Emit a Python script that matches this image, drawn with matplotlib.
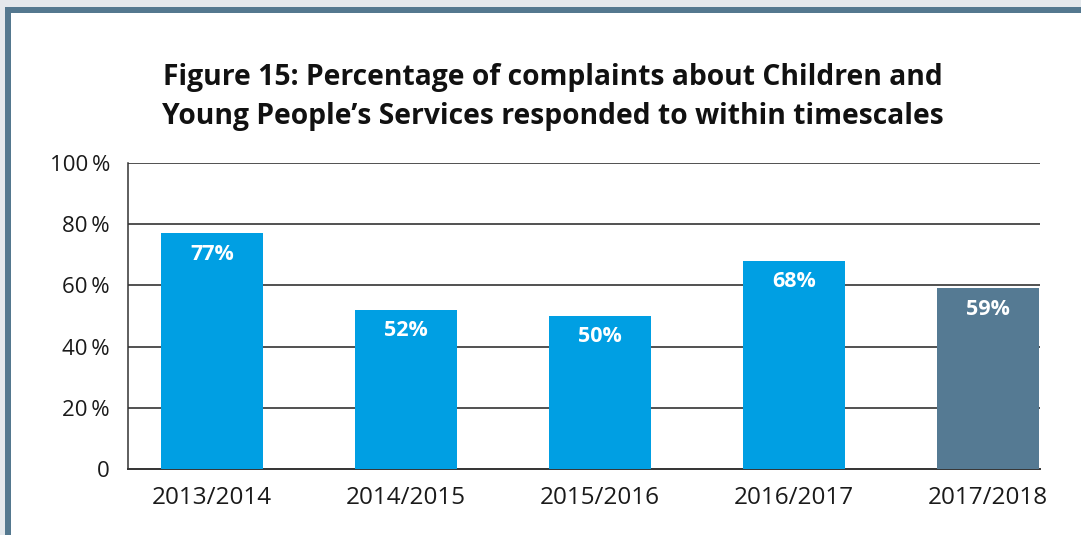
import matplotlib
matplotlib.use("Agg")
import matplotlib.pyplot as plt
from matplotlib.patches import Rectangle

# Complaints responded to within timescales, by year
years = ["2013/2014", "2014/2015", "2015/2016", "2016/2017", "2017/2018"]
pct_in_time = [77, 52, 50, 68, 59]
bar_colors = ["#009fe3", "#009fe3", "#009fe3", "#009fe3", "#557a93"]
y_ticks = [0, 20, 40, 60, 80, 100]
y_tick_labels = ["0", "20\u2009%", "40\u2009%", "60\u2009%", "80\u2009%", "100\u2009%"]

plt.rcParams["font.family"] = ["Open Sans", "DejaVu Sans"]

W, H = 1081, 535
fig = plt.figure(figsize=(W / 100, H / 100), dpi=100)
fig.patch.set_facecolor("#e4e8ec")

# frame: blue-grey border on top/left, white panel inside
fig.patches.append(Rectangle((5 / W, 0), 1, 1 - 7 / H, transform=fig.transFigure,
                             facecolor="#54788f", edgecolor="none", zorder=-2))
fig.patches.append(Rectangle((11 / W, 0), 1, 1 - 13 / H, transform=fig.transFigure,
                             facecolor="white", edgecolor="none", zorder=-1))

ax = fig.add_axes([128 / W, (H - 469) / H, (1040 - 128) / W, (469 - 163) / H])
ax.set_facecolor("none")

x = list(range(len(years)))
bars = ax.bar(x, pct_in_time, width=0.53, color=bar_colors, zorder=3)

for b, v in zip(bars, pct_in_time):
    ax.annotate(f"{v}%", (b.get_x() + b.get_width() / 2, v), xytext=(0, -15),
                textcoords="offset points", ha="center", va="center",
                color="white", fontsize=15.5, fontweight="bold", zorder=4)

ax.set_xlim(-0.433, 4.268)
ax.set_ylim(0, 100)
ax.set_yticks(y_ticks)
ax.set_yticklabels(y_tick_labels)
ax.set_xticks(x)
ax.set_xticklabels(years)
ax.tick_params(axis="both", length=0, colors="#1a1a1a")
ax.tick_params(axis="x", pad=12, labelsize=17.5)
ax.tick_params(axis="y", pad=13, labelsize=16)

for yv in y_ticks[1:]:
    ax.axhline(yv, color="#222222", linewidth=1.1, zorder=1)

for s in ["top", "right"]:
    ax.spines[s].set_visible(False)
ax.spines["left"].set_color("#333333")
ax.spines["bottom"].set_color("#333333")
ax.spines["left"].set_linewidth(1.1)
ax.spines["bottom"].set_linewidth(1.4)

fig.text(553 / W, 1 - 97 / H,
         "Figure 15: Percentage of complaints about Children and\n"
         "Young People\u2019s Services responded to within timescales",
         ha="center", va="center", fontsize=20.3, fontweight="bold",
         color="#111111", linespacing=1.42)

fig.savefig("out.png", dpi=100, facecolor=fig.get_facecolor())
